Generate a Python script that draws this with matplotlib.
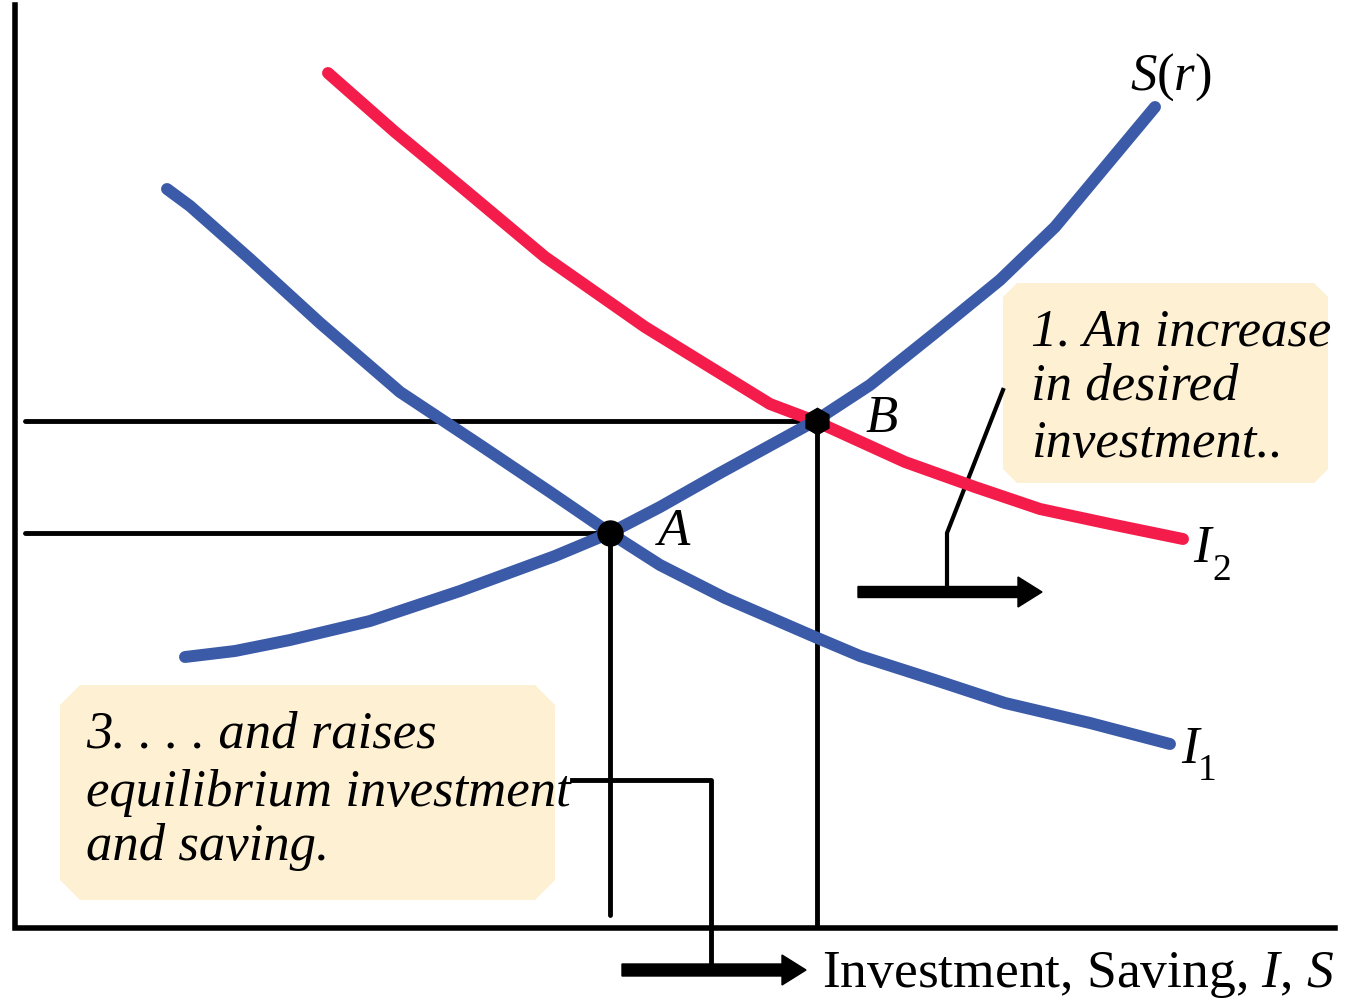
import matplotlib.pyplot as plt
from matplotlib.patches import Polygon

plt.rcParams['font.family'] = ['Liberation Serif', 'DejaVu Serif']
plt.rcParams['mathtext.fontset'] = 'custom'
plt.rcParams['mathtext.rm'] = 'Liberation Serif'
plt.rcParams['mathtext.it'] = 'Liberation Serif:italic'

# curves (pixel-like units, y grows downward)
s_x = [185, 235, 290, 370, 460, 555, 610, 660, 720, 815, 870, 935, 1000, 1055, 1105, 1155]
s_y = [657, 651, 640, 621, 591, 556, 533, 507, 473, 421, 385, 333, 280, 227, 167, 107]

i1_x = [167, 190, 250, 320, 400, 480, 550, 610, 660, 725, 815, 860, 935, 1005, 1090, 1170]
i1_y = [189, 206, 259, 323, 392, 445, 492, 533, 565, 598, 637, 656, 680, 703, 723, 744]

i2_x = [328, 395, 465, 545, 645, 770, 815, 905, 975, 1040, 1110, 1183]
i2_y = [73, 132, 190, 257, 327, 404, 421, 462, 487, 509, 524, 539]

# equilibrium points A and B
eq_labels = ['A', 'B']
eq_x = [610, 817]
eq_y = [533, 421]

box1_lines = ['1. An increase', 'in desired', 'investment..']
box3_lines = ['3. . . . and raises', 'equilibrium investment', 'and saving.']

BLUE = '#3b5ba8'
RED = '#f41c4a'
BOXC = '#fdf0d3'

fig = plt.figure(figsize=(13.48, 9.99), dpi=100)
ax = fig.add_axes([0, 0, 1, 1])
ax.set_xlim(0, 1348)
ax.set_ylim(999, 0)
ax.axis('off')


def chamfer_box(x0, y0, x1, y1, c):
    pts = [(x0 + c, y0), (x1 - c, y0), (x1, y0 + c), (x1, y1 - c),
           (x1 - c, y1), (x0 + c, y1), (x0, y1 - c), (x0, y0 + c)]
    ax.add_patch(Polygon(pts, closed=True, facecolor=BOXC, edgecolor='none', zorder=1))


# axes
ax.plot([15, 15, 1335], [5, 928, 928], color='black', lw=4, solid_joinstyle='miter', zorder=2)

# guide lines to equilibrium
for x, y, bottom in zip(eq_x, eq_y, [915, 925]):
    ax.plot([25, x], [y, y], color='black', lw=3.5, solid_capstyle='round', zorder=2)
    ax.plot([x, x], [y, bottom], color='black', lw=3.5, solid_capstyle='round', zorder=2)

# text boxes
chamfer_box(1003, 283, 1328, 483, 14)
chamfer_box(60, 685, 555, 900, 20)

# leader lines and arrows
ax.plot([1003, 947, 947], [390, 533, 592], color='black', lw=3, zorder=2)
ax.arrow(858, 592, 184, 0, width=11, head_width=30, head_length=24,
         length_includes_head=True, color='black', zorder=2)
ax.plot([572, 711, 711], [780, 780, 967], color='black', lw=3.5, zorder=2)
ax.arrow(622, 970, 184, 0, width=12, head_width=30, head_length=24,
         length_includes_head=True, color='black', zorder=2)

# curves
ax.plot(i2_x, i2_y, color=RED, lw=8.6, solid_capstyle='round', zorder=3)
ax.plot(i1_x, i1_y, color=BLUE, lw=8.6, solid_capstyle='round', zorder=3)
ax.plot(s_x, s_y, color=BLUE, lw=8.6, solid_capstyle='round', zorder=3)

ax.plot(eq_x[0], eq_y[0], 'o', color='black', ms=18, zorder=4)
ax.plot(eq_x[1], eq_y[1], 'h', color='black', ms=19, zorder=4)

# labels
fs = 38
ax.text(eq_x[0] + 45, 545, r'$A$', fontsize=fs, ha='left', va='baseline', zorder=5)
ax.text(eq_x[1] + 48, 432, r'$B$', fontsize=fs, ha='left', va='baseline', zorder=5)
ax.text(1130, 90, r'$S(r)$', fontsize=fs, ha='left', va='baseline', zorder=5)
ax.text(1193, 562, 'I', fontsize=fs, style='italic', ha='left', va='baseline', zorder=5)
ax.text(1212, 580, '2', fontsize=27, ha='left', va='baseline', zorder=5)
ax.text(1181, 763, 'I', fontsize=fs, style='italic', ha='left', va='baseline', zorder=5)
ax.text(1198, 780, '1', fontsize=27, ha='left', va='baseline', zorder=5)
ax.text(822, 987, r'Investment, Saving, $I$, $S$', fontsize=38.5, ha='left', va='baseline', zorder=5)

for line, yb in zip(box1_lines, [346, 400, 457]):
    ax.text(1031, yb, line, fontsize=fs, style='italic', ha='left', va='baseline', zorder=5)
for line, yb in zip(box3_lines, [748, 806, 860]):
    ax.text(86, yb, line, fontsize=fs, style='italic', ha='left', va='baseline', zorder=5)

fig.savefig('out.png', dpi=100)
